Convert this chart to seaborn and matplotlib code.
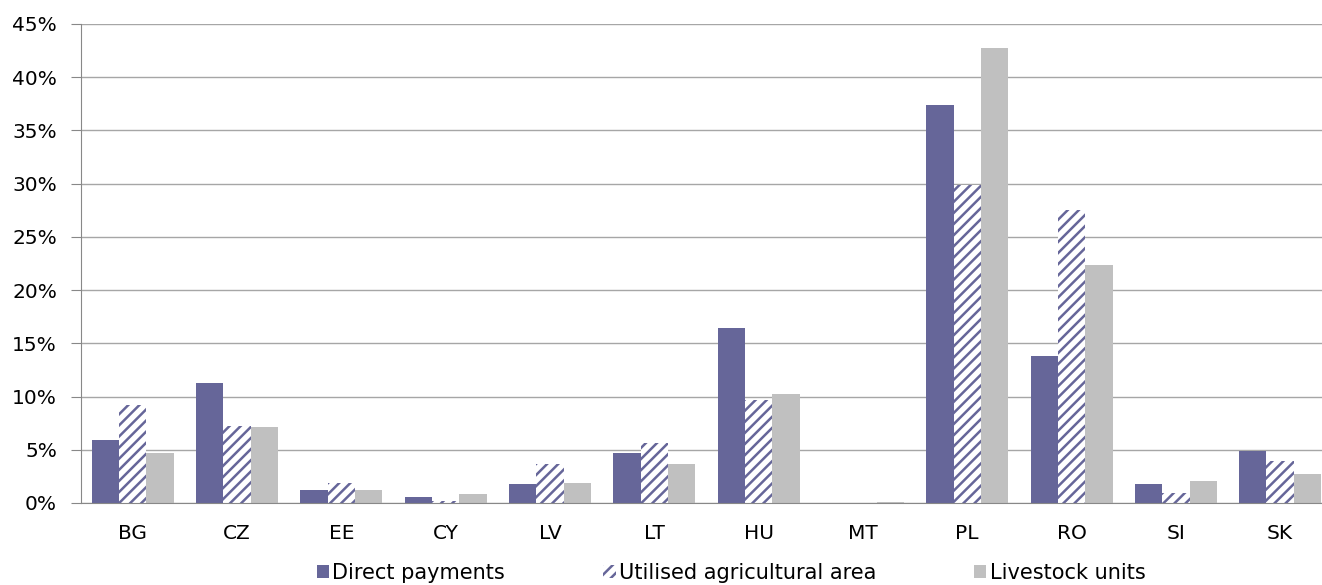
import pandas as pd
import matplotlib
matplotlib.use("Agg")
import matplotlib.pyplot as plt
import seaborn as sns
from matplotlib.patches import Patch
from matplotlib.ticker import PercentFormatter, FixedLocator

countries = ['BG', 'CZ', 'EE', 'CY', 'LV', 'LT', 'HU', 'MT', 'PL', 'RO', 'SI', 'SK']
direct_payments = [5.9, 11.3, 1.2, 0.6, 1.8, 4.7, 16.4, 0.0, 37.4, 13.8, 1.8, 4.9]
utilised_area = [9.2, 7.2, 1.9, 0.2, 3.7, 5.6, 9.7, 0.0, 29.9, 27.5, 0.9, 3.9]
livestock_units = [4.7, 7.1, 1.2, 0.8, 1.9, 3.7, 10.2, 0.1, 42.7, 22.4, 2.1, 2.7]
series_names = ['Direct payments', 'Utilised agricultural area', 'Livestock units']

data = pd.DataFrame({
    'Country': countries * 3,
    'Series': [s for s in series_names for _ in countries],
    'Share': direct_payments + utilised_area + livestock_units,
})

sns.set_style('white')
plt.rcParams['font.family'] = ['DejaVu Sans']
plt.rcParams['hatch.linewidth'] = 1.8

purple = '#666699'
grey = '#c0c0c0'

fig = plt.figure(figsize=(13.22, 5.85), dpi=100)
# plot area runs a little past the right edge of the picture, as in the original
ax = fig.add_axes([0.061, 0.1402, 0.9468, 0.8188])

palette = {'Direct payments': purple,
           'Utilised agricultural area': '#ffffff',
           'Livestock units': grey}
sns.barplot(data=data, x='Country', y='Share', hue='Series', palette=palette,
            hue_order=series_names, order=countries, width=0.786, saturation=1,
            ax=ax, legend=False)

# hatch the middle series (diagonal stripes)
for bar in ax.containers[1]:
    bar.set_hatch('///')
    bar.set_edgecolor(purple)
    bar.set_linewidth(0)
for c in (ax.containers[0], ax.containers[2]):
    for bar in c:
        bar.set_linewidth(0)

ax.set_ylim(0, 45)
ax.set_xlim(-0.5, len(countries) - 0.5)
ax.yaxis.set_major_locator(FixedLocator(range(0, 46, 5)))
ax.yaxis.set_major_formatter(PercentFormatter(decimals=0))
ax.grid(axis='y', color='#a6a6a6', linewidth=1)
ax.set_axisbelow(True)

for side in ('top', 'right'):
    ax.spines[side].set_visible(False)
ax.spines['left'].set_color('#888888')
ax.spines['bottom'].set_color('#888888')

ax.set_xticks(range(len(countries)))
ax.set_xticklabels(countries)
ax.set_xticks([i - 0.5 for i in range(len(countries) + 1)], minor=True)
ax.tick_params(axis='x', which='major', length=0, pad=15, labelsize=14.5, labelcolor='black')
ax.tick_params(axis='x', which='minor', length=7, color='#888888', direction='out')
ax.tick_params(axis='y', length=7, color='#888888', direction='out', labelsize=14.5,
               labelcolor='black', left=True, pad=10)
ax.set_xlabel('')
ax.set_ylabel('')

handles = [Patch(facecolor=purple, linewidth=0),
           Patch(facecolor='white', edgecolor=purple, hatch='///', linewidth=0),
           Patch(facecolor=grey, linewidth=0)]
fig.legend(handles, series_names, loc='center', bbox_to_anchor=(0.553, 0.021),
           ncol=3, frameon=False, fontsize=15, handlelength=0.6, handleheight=0.6,
           handletextpad=0.15, columnspacing=4.7, labelcolor='black',
           borderpad=0, borderaxespad=0)

fig.savefig('out.png', dpi=100)
